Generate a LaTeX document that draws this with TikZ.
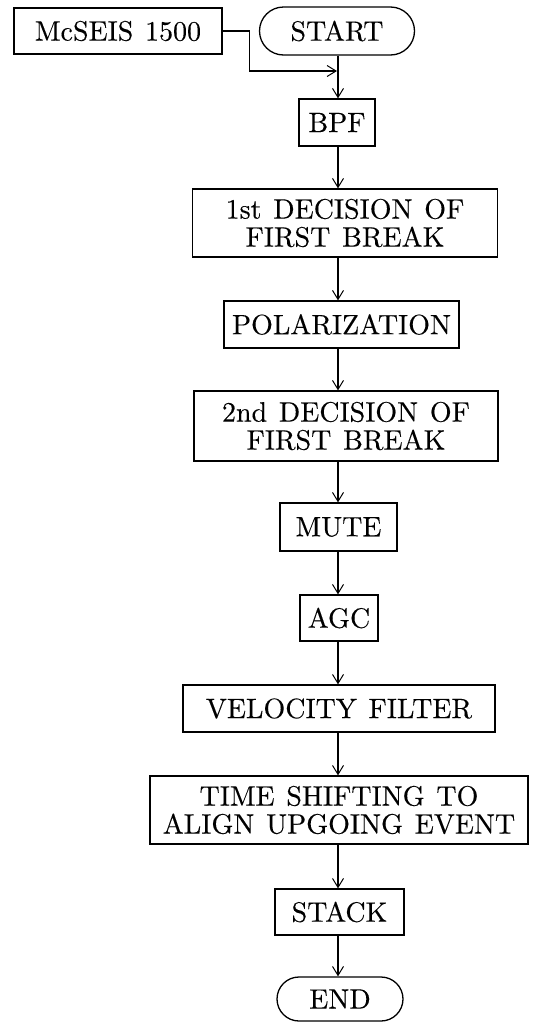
\documentclass[tikz,border=0pt]{standalone}
\usepackage{fontspec}
\usetikzlibrary{arrows.meta,shapes.misc}
% the 10pt design of Latin Modern, slightly emboldened, scaled up for labels
\newfontfamily\flowfam{lmroman10-regular.otf}[FakeBold=0.2]
\newcommand{\flowfont}{\flowfam\fontsize{28}{28}\selectfont\spaceskip=0.42em\relax}
\begin{document}
\begin{tikzpicture}[x=1pt,y=-1pt,
  every node/.style={font=\flowfont, inner sep=0pt, align=center},
  procbox/.style={draw, line width=1.3pt, rectangle},
  termbox/.style={draw, line width=1.3pt, rounded rectangle},
  flow/.style={line width=1.1pt, -{Straight Barb[length=9pt,width=11pt,line width=1pt]}}
]
\useasboundingbox (0,0) rectangle (543,1023);

% common vertical line of the main flow
\coordinate (spine) at (338,0);

% input and terminals
\node[procbox, minimum width=208pt, minimum height=46pt] (mc) at (118,31) {McSEIS 1500};
\node[termbox, minimum width=155pt, minimum height=48pt] (start) at (337,31) {START};

% processing steps
\node[procbox, minimum width=76pt, minimum height=47pt] (bpf) at (337,122.5) {BPF};
\node[procbox, minimum width=305pt, minimum height=68pt] (dec1) at (345,223) {1st DECISION OF\\FIRST BREAK};
\node[procbox, minimum width=235pt, minimum height=47pt] (pol) at (341.5,324.5) {POLARIZATION};
\node[procbox, minimum width=304pt, minimum height=70pt] (dec2) at (346,426) {2nd DECISION OF\\FIRST BREAK};
\node[procbox, minimum width=117pt, minimum height=48pt] (mute) at (338.5,527) {MUTE};
\node[procbox, minimum width=78pt, minimum height=46pt] (agc) at (339,618) {AGC};
\node[procbox, minimum width=312pt, minimum height=47pt] (vel) at (339,708.5) {VELOCITY FILTER};
\node[procbox, minimum width=378pt, minimum height=68pt] (tshift) at (339,810) {TIME SHIFTING TO\\ALIGN UPGOING EVENT};
\node[procbox, minimum width=129pt, minimum height=46pt] (stack) at (339.5,912) {STACK};
\node[termbox, minimum width=126pt, minimum height=44pt] (end) at (340,999) {END};

% recorder feed joins the main line below START
\coordinate (join) at (337,71);
\draw[flow] (mc.east) -- ++(27,0) |- (join);

% main flow
\draw[flow] (spine |- start.south) -- (spine |- bpf.north);
\draw[flow] (spine |- bpf.south) -- (spine |- dec1.north);
\draw[flow] (spine |- dec1.south) -- (spine |- pol.north);
\draw[flow] (spine |- pol.south) -- (spine |- dec2.north);
\draw[flow] (spine |- dec2.south) -- (spine |- mute.north);
\draw[flow] (spine |- mute.south) -- (spine |- agc.north);
\draw[flow] (spine |- agc.south) -- (spine |- vel.north);
\draw[flow] (spine |- vel.south) -- (spine |- tshift.north);
\draw[flow] (spine |- tshift.south) -- (spine |- stack.north);
\draw[flow] (spine |- stack.south) -- (spine |- end.north);
\end{tikzpicture}
\end{document}
